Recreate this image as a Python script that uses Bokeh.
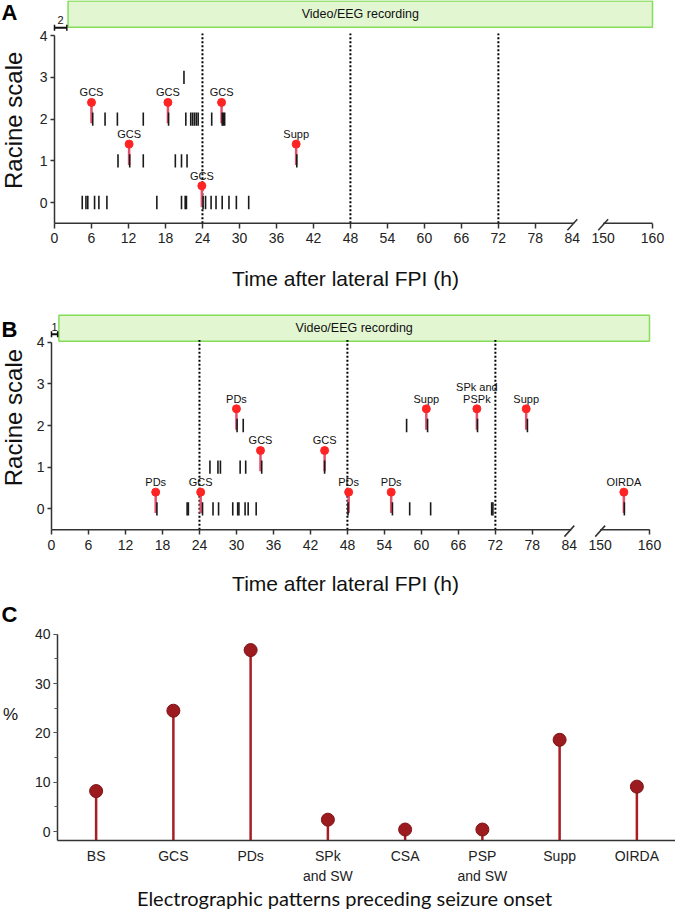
import math
from bokeh.plotting import figure
from bokeh.models import Range1d, FixedTicker, SingleIntervalTicker
from bokeh.layouts import column
from bokeh.embed import file_html
from bokeh.resources import INLINE
from bokeh.core.properties import value

FONT = "Liberation Sans"

# ---------------- data ----------------
hour_ticks = [0, 6, 12, 18, 24, 30, 36, 42, 48, 54, 60, 66, 72, 78, 84, 150, 160]
break_ticks = [84, 150]          # ticks that sit on the axis break marks
racine_ticks = [0, 1, 2, 3, 4]
window_lines = [24, 48, 72]

# Panel A: seizures (black ticks) per Racine stage, hours after FPI
A_lvl0 = [4.5, 5.1, 5.4, 6.5, 7.2, 8.5, 16.6, 20.6, 21.2, 21.4, 24.1, 24.5,
          25.4, 26.2, 27.2, 28.3, 29.5, 31.5]
A_lvl1 = [10.3, 12.2, 14.4, 19.6, 20.6, 21.5, 39.3]
A_lvl2 = [6.2, 8.2, 10.2, 14.4, 18.5, 21.3, 22.1, 22.4, 22.7, 23.0, 23.3,
          25.5, 27.2, 27.4, 27.6]
A_lvl3 = [21.0]
A_mark_t = [6.0, 12.1, 18.4, 23.9, 27.1, 39.2]
A_mark_lvl = [2, 1, 2, 0, 2, 1]
A_mark_txt = ["GCS", "GCS", "GCS", "GCS", "GCS", "Supp"]
A_pre_rec = 2

# Panel B
B_lvl0 = [17.1, 22.0, 22.2, 24.5, 26.2, 27.1, 29.4, 30.2, 30.4, 31.4, 31.9,
          33.2, 48.1, 55.3, 58.1, 61.5, 71.4, 71.6, 154.9]
B_lvl1 = [25.7, 27.0, 27.4, 30.6, 31.5, 34.1, 44.3]
B_lvl2 = [30.1, 31.1, 57.6, 61.0, 69.1, 77.2]
B_lvl3 = []
B_mark_t = [16.9, 24.2, 30.0, 33.9, 44.3, 48.2, 55.1, 60.8, 69.0, 77.0, 154.8]
B_mark_lvl = [0, 0, 2, 1, 1, 0, 0, 2, 2, 2, 0]
B_mark_txt = ["PDs", "GCS", "PDs", "GCS", "GCS", "PDs", "PDs", "Supp",
              "SPk and\nPSPk", "Supp", "OIRDA"]
B_pre_rec = 1

# Panel C
C_patterns = ["BS", "GCS", "PDs", "SPk\nand SW", "CSA", "PSP\nand SW", "Supp", "OIRDA"]
C_percent = [8.2, 24.5, 36.8, 2.4, 0.4, 0.4, 18.6, 9.1]

W = 675
S = 598 / 97.0          # px per time unit (0 h -> 160 h spans 598 px)


def tx(t):
    """broken time axis: 0-84 h linear, 150-160 h compressed after the break"""
    return t if t <= 84 else 89 + (t - 150) * 0.8


def timeline(letter, levels, mk_t, mk_l, mk_txt, pre_h, H, x0px, y0px, uy,
             box_lo, box_hi, letter_top_px, ylab_y, title_px):
    xr = Range1d(-x0px / S, (W - x0px) / S)
    yr = Range1d(-(H - y0px) / uy, y0px / uy)
    p = figure(width=W, height=H, x_range=xr, y_range=yr,
               output_backend="svg", toolbar_location=None,
               min_border_left=0, min_border_right=0, min_border_top=0,
               min_border_bottom=0)
    p.grid.visible = False
    p.outline_line_color = None

    # recording window
    bl = tx(pre_h) + 0.2
    br = tx(160)
    p.quad(left=[bl], right=[br], bottom=[box_lo], top=[box_hi],
           fill_color="#e3f6d2", line_color="#84dc58", line_width=1.5)
    p.text(x=[(bl + br) / 2], y=[(box_lo + box_hi) / 2],
           text=["Video/EEG recording"], text_align="center",
           text_baseline="middle", text_font=value(FONT),
           text_font_size="12.5px", text_color="#111")
    # pre-recording interval bracket
    yb = 4.19
    p.segment(x0=[0], y0=[yb], x1=[tx(pre_h)], y1=[yb], line_width=2, color="#111")
    p.segment(x0=[0, tx(pre_h)], y0=[yb - 0.07] * 2, x1=[0, tx(pre_h)],
              y1=[yb + 0.07] * 2, line_width=1.5, color="#111")
    p.text(x=[tx(pre_h) / 2], y=[yb + 0.08], text=[str(pre_h)],
           text_align="center", text_baseline="bottom", text_font=value(FONT),
           text_font_size="11px", text_color="#111")

    # 24 h windows
    p.segment(x0=window_lines, y0=-0.5, x1=window_lines, y1=4.05,
              line_dash="2 2", line_width=2, color="black")

    mx = [tx(t) for t in mk_t]
    p.segment(x0=mx, y0=[l - 0.1 for l in mk_l], x1=mx,
              y1=[l + 0.4 for l in mk_l], line_width=2.5, color="#e2506a")
    for lvl, ts in enumerate(levels):
        xs = [tx(t) for t in ts]
        if xs:
            p.segment(x0=xs, y0=lvl - 0.16, x1=xs, y1=lvl + 0.16,
                      line_width=1.6, color="#1a1a1a")
    p.scatter(x=mx, y=[l + 0.4 for l in mk_l], size=8, color="#ff2424")
    p.text(x=mx, y=[l + 0.4 for l in mk_l], text=mk_txt, text_align="center",
           text_baseline="bottom", y_offset=-4, text_font=value(FONT),
           text_font_size="11px", text_color="#111", text_line_height=1.0)

    # broken x-axis line and break marks
    b1, b2 = tx(84), tx(150)
    p.segment(x0=[0, b2], y0=[-0.5, -0.5], x1=[b1 + 0.3, tx(160)],
              y1=[-0.5, -0.5], line_width=1.5, color="#333")
    p.segment(x0=[b1 - 0.8, b2 - 0.8], y0=[-0.5 - 7 / uy] * 2,
              x1=[b1 + 0.8, b2 + 0.8], y1=[-0.5 + 4 / uy] * 2,
              line_width=1.5, color="#333")
    # labels of the ticks that sit on the break marks
    p.text(x=[tx(t) for t in break_ticks], y=-0.5, text=[str(t) for t in break_ticks],
           y_offset=10, text_align="center", text_baseline="top",
           text_font=value(FONT), text_font_size="14px", text_color="#222")

    plain_ticks = [t for t in hour_ticks if t not in break_ticks]
    ax = p.xaxis[0]
    ax.fixed_location = -0.5
    ax.ticker = FixedTicker(ticks=[tx(t) for t in plain_ticks])
    ax.major_label_overrides = {tx(t): str(t) for t in plain_ticks}
    ax.bounds = (0, tx(160))
    ax.axis_line_color = None
    ax.major_label_text_font = FONT
    ax.major_label_text_font_size = "14px"
    ax.major_label_text_color = "#222"
    ax.major_label_standoff = 5
    ax.major_tick_out = 5
    ax.major_tick_in = 0
    ax.minor_tick_line_color = None
    ax.major_tick_line_color = "#333"
    ax.major_tick_line_width = 1.5

    ay = p.yaxis[0]
    ay.fixed_location = 0
    ay.ticker = FixedTicker(ticks=racine_ticks)
    ay.bounds = (-0.5, 4)
    ay.major_label_text_font = FONT
    ay.major_label_text_font_size = "14px"
    ay.major_label_text_color = "#222"
    ay.major_label_standoff = 3
    ay.major_tick_out = 4
    ay.major_tick_in = 0
    ay.minor_tick_line_color = None
    ay.axis_line_color = "#333"
    ay.axis_line_width = 1.5
    ay.major_tick_line_color = "#333"
    ay.major_tick_line_width = 1.5

    # titles, panel letter
    p.text(x=[(345 - x0px) / S], y=[(y0px - title_px) / uy],
           text=["Time after lateral FPI (h)"], text_align="center",
           text_baseline="middle", text_font=value(FONT),
           text_font_size="21px", text_color="#111")
    p.text(x=[(13 - x0px) / S], y=[ylab_y], text=["Racine scale"],
           angle=math.pi / 2, text_align="center", text_baseline="middle",
           text_font=value(FONT), text_font_size="24px", text_color="#111")
    p.text(x=[xr.start + 1 / S], y=[(y0px - letter_top_px) / uy],
           text=[letter], text_align="left", text_baseline="top",
           text_font=value(FONT), text_font_style="bold",
           text_font_size="22px", text_color="black")
    return p


pA = timeline("A", [A_lvl0, A_lvl1, A_lvl2, A_lvl3], A_mark_t, A_mark_lvl,
              A_mark_txt, A_pre_rec, H=300, x0px=54, y0px=202, uy=41.7,
              box_lo=4.2, box_hi=4.83, letter_top_px=-1, ylab_y=1.97,
              title_px=277.7)
pB = timeline("B", [B_lvl0, B_lvl1, B_lvl2, B_lvl3], B_mark_t, B_mark_lvl,
              B_mark_txt, B_pre_rec, H=300, x0px=51, y0px=208.3, uy=41.65,
              box_lo=4.02, box_hi=4.65, letter_top_px=16, ylab_y=2.19,
              title_px=282.7)

# ---------------- panel C ----------------
C_H = 313
CX0, CY0 = 57, 231            # px of x=0 and y=0 inside the figure
CW = (W - CX0) / len(C_patterns)
CUY = 4.93                    # px per percent
cxr = Range1d(-CX0 / CW, len(C_patterns))
cyr = Range1d(-(C_H - CY0) / CUY, CY0 / CUY)
pC = figure(width=W, height=C_H, x_range=cxr, y_range=cyr,
            output_backend="svg", toolbar_location=None, min_border_left=0,
            min_border_right=0, min_border_top=0, min_border_bottom=0)
pC.grid.visible = False
pC.outline_line_color = None

cpos = [i + 0.5 for i in range(len(C_patterns))]
pC.segment(x0=cpos, y0=-1.8, x1=cpos, y1=C_percent, line_width=2.5,
           color="#a81e24")
pC.scatter(x=cpos, y=C_percent, size=13, fill_color="#9c1b1f",
           line_color="#7c1317", line_width=1)
pC.text(x=cpos, y=-1.8, text=C_patterns, y_offset=8, text_align="center",
        text_baseline="top", text_font=value(FONT), text_font_size="14px",
        text_color="#222", text_line_height=1.2)

cy = pC.yaxis[0]
cy.fixed_location = 0
cy.ticker = SingleIntervalTicker(interval=10, num_minor_ticks=2)
cy.bounds = (-1.8, 40)
cy.major_label_text_font = FONT
cy.major_label_text_font_size = "14px"
cy.major_label_text_color = "#222"
cy.major_label_standoff = 3
cy.major_tick_out = 4
cy.major_tick_in = 0
cy.minor_tick_out = 3
cy.minor_tick_in = 0
cy.axis_line_color = "#333"
cy.axis_line_width = 1.5
cy.major_tick_line_color = "#333"
cy.minor_tick_line_color = "#555"

cx = pC.xaxis[0]
cx.fixed_location = -1.8
cx.bounds = (0, len(C_patterns))
cx.ticker = FixedTicker(ticks=[])
cx.major_tick_line_color = None
cx.minor_tick_line_color = None
cx.axis_line_color = "#333"
cx.axis_line_width = 1.5

pC.text(x=[(344 - CX0) / CW], y=[(CY0 - 297) / CUY],
        text=["Electrographic patterns preceding seizure onset"],
        text_align="center", text_baseline="middle", text_font=value("Lato"),
        text_font_size="20px", text_color="#111")
pC.text(x=[(10 - CX0) / CW], y=[23.7], text=["%"], text_align="center",
        text_baseline="middle", text_font=value(FONT), text_font_size="17px",
        text_color="#111")
pC.text(x=[cxr.start + 1 / CW], y=[(CY0 - 1) / CUY], text=["C"],
        text_align="left", text_baseline="top", text_font=value(FONT),
        text_font_style="bold", text_font_size="22px", text_color="black")

layout = column(pA, pB, pC, spacing=0)
open("out.html", "w").write(file_html(layout, INLINE))
